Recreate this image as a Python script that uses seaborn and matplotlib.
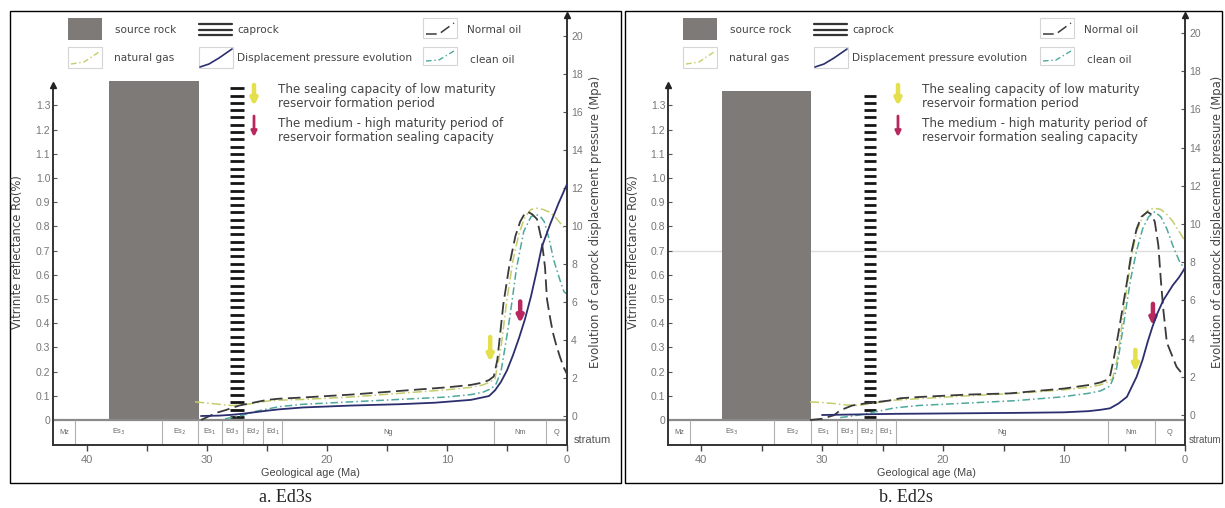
import numpy as np
import pandas as pd
import matplotlib
matplotlib.use("Agg")
import matplotlib.pyplot as plt
from matplotlib.patches import Rectangle
import seaborn as sns

sns.set_theme(style="white")
plt.rcParams['font.family'] = ['Liberation Sans', 'DejaVu Sans']

# ------------------------------------------------------------------ data
strata_labels = ["Mz", "Es$_3$", "Es$_2$", "Es$_1$", "Ed$_3$", "Ed$_2$", "Ed$_1$", "Ng", "Nm", "Q"]
a_strata_bounds = [41.0, 33.75, 30.75, 28.75, 27.0, 25.3, 23.75, 6.1, 1.75]
b_strata_bounds = [40.9, 34.0, 30.9, 28.8, 27.1, 25.5, 23.9, 6.4, 2.5]

ro_ticks = [0, 0.1, 0.2, 0.3, 0.4, 0.5, 0.6, 0.7, 0.8, 0.9, 1.0, 1.1, 1.2, 1.3]
ro_tick_labels = ["0", "0.1", "0.2", "0.3", "0.4", "0.5", "0.6", "0.7", "0.8", "0.9", "1.0", "1.1", "1.2", "1.3"]
p_ticks = [0, 2, 4, 6, 8, 10, 12, 14, 16, 18, 20]
age_ticks = [40, 30, 20, 10, 0]
age_minor = [35, 25, 15, 5]

# source rock / caprock intervals (Ma) and top (Ro %)
a_source = [38.2, 30.7, 1.40]
b_source = [38.3, 30.9, 1.36]
a_caprock = [28.1, 26.9, 1.40]
b_caprock = [26.5, 25.5, 1.36]

# panel a (Ed3s)
a_oil_t = [30.5, 29.2, 28.5, 27.3, 26.5, 25.0, 24.0, 22.0, 18.0, 14.0, 10.0, 8.0, 7.0, 6.5, 6.1, 5.8, 5.3, 4.8, 4.3, 3.9, 3.5, 3.25, 2.9, 2.5, 2.1, 1.83, 1.67, 1.4, 1.17, 0.9, 0.58, 0.3, 0.0]
a_oil_ro = [0.0, 0.03, 0.04, 0.06, 0.068, 0.083, 0.088, 0.093, 0.105, 0.12, 0.135, 0.145, 0.155, 0.165, 0.18, 0.25, 0.48, 0.64, 0.76, 0.82, 0.855, 0.86, 0.85, 0.83, 0.74, 0.63, 0.50, 0.42, 0.36, 0.31, 0.26, 0.22, 0.19]
a_gas_t = [31.0, 30.0, 29.0, 28.0, 27.0, 26.0, 25.0, 24.0, 22.0, 18.0, 14.0, 10.0, 8.0, 7.0, 6.5, 6.0, 5.5, 5.0, 4.5, 4.0, 3.5, 3.0, 2.5, 2.0, 1.5, 1.0, 0.5, 0.0]
a_gas_ro = [0.075, 0.07, 0.065, 0.06, 0.062, 0.07, 0.078, 0.082, 0.085, 0.095, 0.11, 0.125, 0.135, 0.145, 0.155, 0.17, 0.30, 0.50, 0.66, 0.77, 0.84, 0.87, 0.875, 0.87, 0.86, 0.84, 0.81, 0.78]
a_clean_t = [28.5, 27.0, 26.0, 25.0, 24.0, 22.0, 18.0, 14.0, 10.0, 8.0, 7.0, 6.3, 5.9, 5.5, 5.0, 4.75, 4.2, 3.6, 3.0, 2.6, 2.2, 1.9, 1.5, 1.1, 0.6, 0.25, 0.0]
a_clean_ro = [0.005, 0.02, 0.035, 0.045, 0.055, 0.065, 0.075, 0.085, 0.095, 0.105, 0.115, 0.13, 0.15, 0.20, 0.35, 0.43, 0.63, 0.78, 0.84, 0.85, 0.84, 0.82, 0.75, 0.66, 0.58, 0.53, 0.52]
a_disp_t = [30.5, 29.0, 28.0, 27.0, 26.0, 25.0, 24.0, 22.0, 18.0, 14.0, 11.0, 8.0, 6.5, 6.0, 5.5, 5.0, 4.5, 4.0, 3.5, 3.0, 2.5, 2.1, 1.4, 0.7, 0.0]
a_disp_p = [0.0, 0.02, 0.06, 0.12, 0.2, 0.28, 0.35, 0.45, 0.55, 0.62, 0.7, 0.85, 1.05, 1.35, 1.8, 2.4, 3.2, 4.1, 5.1, 6.3, 7.7, 8.9, 10.1, 11.2, 12.2]
a_arrows = [[6.4, 0.343, 0.24, "#e4df4a"], [3.9, 0.49, 0.40, "#b8275e"]]

# panel b (Ed2s)
b_oil_t = [31.0, 30.0, 29.0, 28.5, 27.5, 26.5, 25.5, 24.5, 23.5, 22.0, 18.0, 14.5, 10.0, 7.9, 7.0, 6.5, 6.2, 5.9, 5.5, 5.1, 4.8, 4.4, 4.0, 3.6, 3.1, 2.8, 2.5, 2.2, 2.0, 1.8, 1.5, 1.1, 0.7, 0.3, 0.0]
b_oil_ro = [0.0, 0.005, 0.02, 0.04, 0.06, 0.068, 0.074, 0.08, 0.09, 0.095, 0.105, 0.11, 0.13, 0.145, 0.155, 0.165, 0.18, 0.25, 0.36, 0.48, 0.57, 0.70, 0.79, 0.84, 0.86, 0.85, 0.82, 0.72, 0.58, 0.46, 0.32, 0.27, 0.22, 0.195, 0.18]
b_gas_t = [31.0, 30.0, 29.0, 28.0, 27.0, 26.0, 25.0, 24.0, 22.0, 18.0, 14.0, 10.0, 8.0, 7.0, 6.5, 6.0, 5.6, 5.2, 4.8, 4.4, 4.0, 3.5, 3.0, 2.5, 2.0, 1.5, 1.0, 0.5, 0.0]
b_gas_ro = [0.075, 0.072, 0.068, 0.062, 0.06, 0.068, 0.075, 0.082, 0.088, 0.10, 0.11, 0.125, 0.135, 0.145, 0.155, 0.17, 0.25, 0.40, 0.55, 0.68, 0.78, 0.84, 0.87, 0.875, 0.87, 0.85, 0.82, 0.78, 0.74]
b_clean_t = [28.5, 27.0, 26.0, 25.0, 24.0, 22.0, 18.0, 14.0, 10.3, 8.0, 7.0, 6.2, 5.7, 5.4, 5.0, 4.5, 4.0, 3.5, 3.0, 2.5, 2.0, 1.5, 1.0, 0.5, 0.0]
b_clean_ro = [0.01, 0.02, 0.03, 0.04, 0.05, 0.06, 0.07, 0.08, 0.095, 0.11, 0.12, 0.14, 0.20, 0.29, 0.42, 0.58, 0.70, 0.79, 0.84, 0.86, 0.84, 0.79, 0.72, 0.66, 0.62]
b_disp_t = [30.0, 28.0, 26.0, 24.0, 22.0, 18.0, 14.0, 10.0, 8.0, 7.0, 6.2, 5.5, 4.8, 4.0, 3.5, 3.1, 2.7, 2.3, 1.8, 1.4, 1.0, 0.5, 0.0]
b_disp_p = [0.0, 0.02, 0.04, 0.06, 0.07, 0.09, 0.11, 0.14, 0.2, 0.27, 0.35, 0.6, 0.95, 2.0, 2.9, 3.8, 4.6, 5.3, 6.0, 6.4, 6.8, 7.2, 7.7]
b_arrows = [[4.1, 0.29, 0.20, "#e4df4a"], [2.65, 0.48, 0.39, "#b8275e"]]

# ------------------------------------------------------------------ style
W, H = 1225, 508
C_SRC = "#7e7a77"
C_OIL = "#3a3a3a"
C_GAS = "#c5cc6a"
C_CLEAN = "#4fa89c"
C_DISP = "#2c2f6e"
C_TXT = "#444444"
C_TICK = "#777777"
RO_LIM = (-0.1033, 1.6736)
LEG_FONT = "DejaVu Sans"

fig = plt.figure(figsize=(W / 100, H / 100), dpi=100)
fig.patch.set_facecolor("white")


def rect_px(x0, x1, y_top, y_bot):
    return [x0 / W, 1 - y_bot / H, (x1 - x0) / W, (y_bot - y_top) / H]


def draw_panel(rect, xmax, p_lim, oil, gas, clean, disp, src, cap, bounds, arrows, refline=False):
    ax = fig.add_axes(rect)
    ax.set_xlim(xmax, 0)
    ax.set_ylim(*RO_LIM)
    ax.patch.set_alpha(0)
    ax.grid(False)

    # source rock
    ax.bar((src[0] + src[1]) / 2, src[2], width=src[0] - src[1], bottom=0,
           color=C_SRC, edgecolor="none", zorder=1)
    # caprock (white column with black stripes)
    ax.bar((cap[0] + cap[1]) / 2, cap[2], width=cap[0] - cap[1], bottom=0,
           color="white", edgecolor="none", zorder=1)
    stripes = np.arange(0.012, cap[2], 0.0302)
    ax.hlines(stripes, cap[1], cap[0], color="#151515", lw=2.0, zorder=1.5)

    if refline:
        ax.axhline(0.7, color="#dddddd", lw=1.0, zorder=0.5)

    # zero line and stratum row
    ax.axhline(0, color="#8a8a8a", lw=1.6, zorder=2)
    ax.vlines(bounds, RO_LIM[0], 0, color="#b0b0b0", lw=0.8, zorder=2)
    edges = [xmax] + list(bounds) + [0]
    for lab, e0, e1 in zip(strata_labels, edges[:-1], edges[1:]):
        ax.text((e0 + e1) / 2, -0.05, lab, ha="center", va="center",
                fontsize=5.3, color="#666666")

    # curves
    sns.lineplot(x=oil[0], y=oil[1], ax=ax, color=C_OIL, lw=1.3,
                 linestyle=(0, (7, 3)), estimator=None, sort=False, zorder=4)
    sns.lineplot(x=gas[0], y=gas[1], ax=ax, color=C_GAS, lw=1.1,
                 linestyle=(0, (6, 2, 1, 2)), estimator=None, sort=False, zorder=3)
    sns.lineplot(x=clean[0], y=clean[1], ax=ax, color=C_CLEAN, lw=1.1,
                 linestyle=(0, (5, 2, 1, 2)), estimator=None, sort=False, zorder=3)

    # arrows
    for t, top, bot, col in arrows:
        ax.annotate("", xy=(t, bot), xytext=(t, top),
                    arrowprops=dict(arrowstyle="-|>", lw=3.2, color=col,
                                    mutation_scale=9, shrinkA=0, shrinkB=0), zorder=6)

    # axes styling
    ax.set_yticks(ro_ticks)
    ax.set_yticklabels(ro_tick_labels, fontsize=7.5, color=C_TICK)
    ax.tick_params(axis="y", direction="in", length=3, pad=2, color="#555", width=0.8)
    ax.set_xticks(age_ticks)
    ax.set_xticklabels([str(v) for v in age_ticks], fontsize=8, color=C_TICK)
    ax.set_xticks(age_minor, minor=True)
    ax.tick_params(axis="x", which="both", direction="out", length=4, pad=3,
                   color="#444", width=1.0, bottom=True)
    ax.set_xlabel("")
    ax.set_ylabel("")
    for s in ["top", "right"]:
        ax.spines[s].set_visible(False)
    ax.spines["left"].set_bounds(RO_LIM[0], 1.385)
    for s in ["left", "bottom"]:
        ax.spines[s].set_color("#333333")
        ax.spines[s].set_linewidth(1.4)
    ax.plot(0, 1.385, marker="^", ms=5, color="#222", transform=ax.get_yaxis_transform(),
            clip_on=False, zorder=7)

    ax2 = ax.twinx()
    ax2.set_ylim(*p_lim)
    ax2.grid(False)
    sns.lineplot(x=disp[0], y=disp[1], ax=ax2, color=C_DISP, lw=1.3,
                 estimator=None, sort=False, zorder=5)
    ax2.set_yticks(p_ticks)
    ax2.set_yticklabels([str(v) for v in p_ticks], fontsize=7.5, color=C_TICK)
    ax2.tick_params(axis="y", direction="in", length=3, pad=3, color="#555", width=0.8)
    ax2.set_ylabel("")
    for s in ["top", "left", "bottom"]:
        ax2.spines[s].set_visible(False)
    ax2.spines["right"].set_color("#333333")
    ax2.spines["right"].set_linewidth(1.4)
    ax2.plot(1, 1, marker="^", ms=5, color="#222", transform=ax2.transAxes,
             clip_on=False, zorder=7)
    return ax


draw_panel(rect_px(53, 567, 15, 445), 42.83, (-1.526, 21.105),
           (a_oil_t, a_oil_ro), (a_gas_t, a_gas_ro), (a_clean_t, a_clean_ro),
           (a_disp_t, a_disp_p), a_source, a_caprock, a_strata_bounds, a_arrows)
draw_panel(rect_px(668, 1185, 15, 445), 42.73, (-1.571, 20.94),
           (b_oil_t, b_oil_ro), (b_gas_t, b_gas_ro), (b_clean_t, b_clean_ro),
           (b_disp_t, b_disp_p), b_source, b_caprock, b_strata_bounds, b_arrows,
           refline=True)

# ------------------------------------------------------------------ overlay (pixel coords)
ov = fig.add_axes([0, 0, 1, 1])
ov.set_xlim(0, W)
ov.set_ylim(H, 0)
ov.axis("off")
ov.patch.set_alpha(0)

# panel frames
ov.add_patch(Rectangle((10, 11), 611, 472, fill=False, ec="black", lw=1.0))
ov.add_patch(Rectangle((625, 11), 597, 472, fill=False, ec="black", lw=1.0))


def draw_legend(x_src, x_cap, x_norm, x_arr):
    fs = 7.6
    ov.add_patch(Rectangle((x_src, 18), 34, 22, color=C_SRC, lw=0))
    ov.text(x_src + 47, 30, "source rock", fontsize=fs, color=C_TXT, va="center",
            family=LEG_FONT)
    ov.add_patch(Rectangle((x_src, 47), 34, 21, fill=False, ec="#d5d5d5", lw=0.8))
    ov.plot([x_src + 3, x_src + 16, x_src + 31], [64, 62, 52], color=C_GAS, lw=1.0,
            linestyle=(0, (4, 2, 1, 2)))
    ov.text(x_src + 46, 58, "natural gas", fontsize=fs, color=C_TXT, va="center",
            family=LEG_FONT)

    for yy in (24, 30, 35):
        ov.plot([x_cap, x_cap + 33], [yy, yy], color="#333", lw=1.6)
    ov.text(x_cap + 38, 30, "caprock", fontsize=fs, color=C_TXT, va="center",
            family=LEG_FONT)
    ov.add_patch(Rectangle((x_cap, 47), 34, 21, fill=False, ec="#d5d5d5", lw=0.8))
    ov.plot([x_cap + 1, x_cap + 10, x_cap + 20, x_cap + 33], [67, 64, 58, 49],
            color=C_DISP, lw=1.2)
    ov.text(x_cap + 38, 58, "Displacement pressure evolution", fontsize=fs,
            color=C_TXT, va="center", family=LEG_FONT)

    ov.add_patch(Rectangle((x_norm, 18), 34, 20, fill=False, ec="#d5d5d5", lw=0.8))
    ov.plot([x_norm + 3, x_norm + 16, x_norm + 31], [34, 34, 23], color=C_OIL, lw=1.1,
            linestyle=(0, (7, 3)))
    ov.text(x_norm + 44, 30, "Normal oil", fontsize=fs, color=C_TXT, va="center",
            family=LEG_FONT)
    ov.add_patch(Rectangle((x_norm, 47), 34, 18, fill=False, ec="#d5d5d5", lw=0.8))
    ov.plot([x_norm + 3, x_norm + 16, x_norm + 31], [61, 60, 51], color=C_CLEAN, lw=1.0,
            linestyle=(0, (4, 2, 1, 2)))
    ov.text(x_norm + 47, 60, "clean oil", fontsize=fs, color=C_TXT, va="center",
            family=LEG_FONT)

    ov.annotate("", xy=(x_arr, 106), xytext=(x_arr, 85),
                arrowprops=dict(arrowstyle="-|>", lw=3.2, color="#e4df4a",
                                mutation_scale=9, shrinkA=0, shrinkB=0))
    ov.annotate("", xy=(x_arr, 137), xytext=(x_arr, 116),
                arrowprops=dict(arrowstyle="-|>", lw=2.0, color="#b8275e",
                                mutation_scale=8, shrinkA=0, shrinkB=0))
    fs2 = 8.6
    for yy, line in [(89, "The sealing capacity of low maturity"),
                     (103, "reservoir formation period"),
                     (123, "The medium - high maturity period of"),
                     (137, "reservoir formation sealing capacity")]:
        ov.text(x_arr + 24, yy, line, fontsize=fs2, color=C_TXT, va="center",
                family=LEG_FONT)


draw_legend(68, 199, 423, 254)
draw_legend(683, 814, 1040, 898)

for xl, xr, xc in [(18, 596, 310), (633, 1217, 926)]:
    ov.text(xl, 252, "Vitrinite reflectance Ro(%)", rotation=90, fontsize=8.4,
            color=C_TXT, ha="center", va="center", family=LEG_FONT)
    ov.text(xr, 222, "Evolution of caprock displacement pressure (Mpa)", rotation=90,
            fontsize=8.4, color=C_TXT, ha="center", va="center", family=LEG_FONT)
    ov.text(xc, 473, "Geological age (Ma)", fontsize=7.8, color=C_TXT,
            ha="center", va="center")

ov.text(574, 440, "stratum", fontsize=8, color="#555", va="center")
ov.text(1189, 440, "stratum", fontsize=7, color="#555", va="center")

ov.text(285, 497, "a. Ed3s", fontsize=13, family="Liberation Serif", ha="center", va="center")
ov.text(906, 497, "b. Ed2s", fontsize=13, family="Liberation Serif", ha="center", va="center")

fig.savefig("out.png", dpi=100, facecolor="white")
